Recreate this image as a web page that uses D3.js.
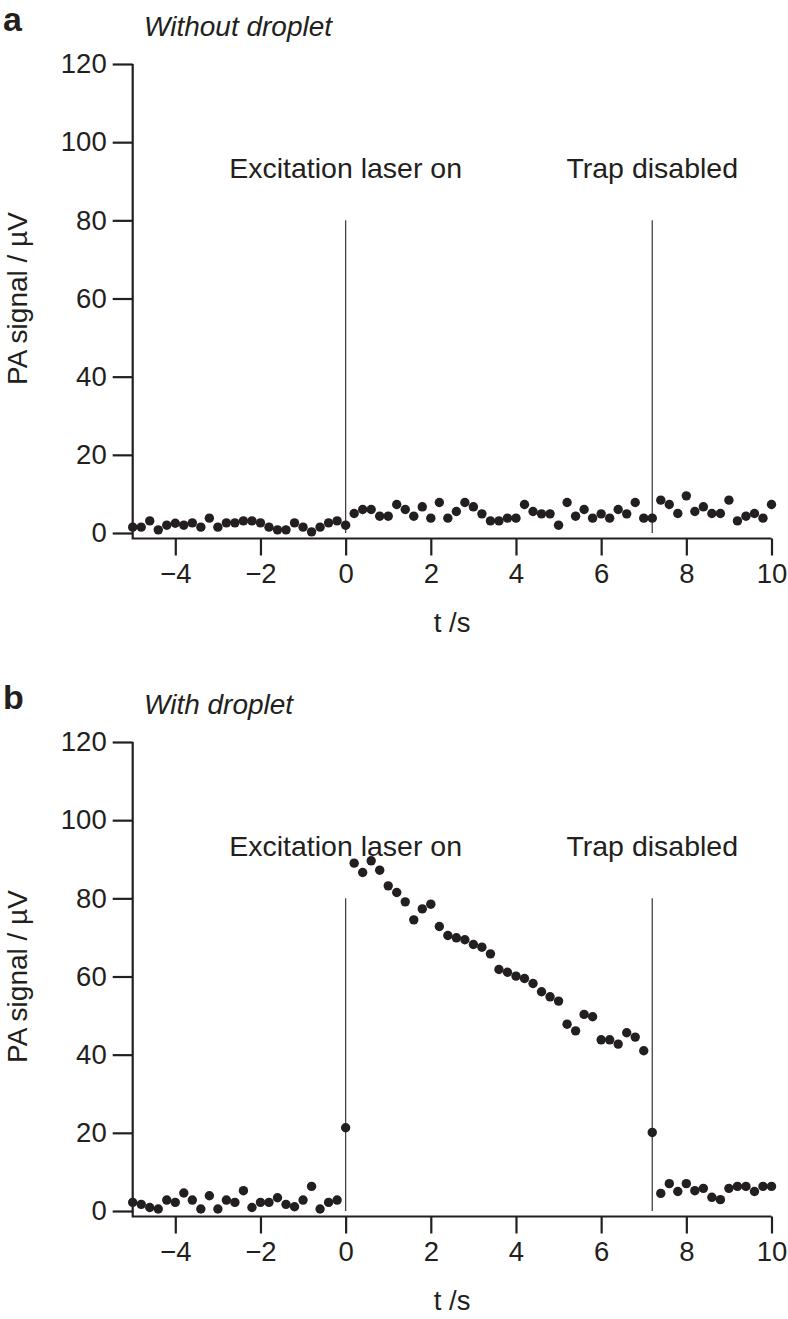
<!DOCTYPE html>
<html>
<head>
<meta charset="utf-8">
<script src="https://cdn.jsdelivr.net/npm/d3@7"></script>
<style>
    body { margin: 0; background: #fff; }
    svg text { font-family: "Liberation Sans", Arial, Helvetica, sans-serif; fill: #231f20; }
</style>
</head>
<body>
<svg id="chart"></svg>
<script>
// Set data
const times = [
    -5.0, -4.8, -4.6, -4.4, -4.2, -4.0, -3.8, -3.6, -3.4, -3.2,
    -3.0, -2.8, -2.6, -2.4, -2.2, -2.0, -1.8, -1.6, -1.4, -1.2,
    -1.0, -0.8, -0.6, -0.4, -0.2, 0.0, 0.2, 0.4, 0.6, 0.8,
    1.0, 1.2, 1.4, 1.6, 1.8, 2.0, 2.2, 2.4, 2.6, 2.8,
    3.0, 3.2, 3.4, 3.6, 3.8, 4.0, 4.2, 4.4, 4.6, 4.8,
    5.0, 5.2, 5.4, 5.6, 5.8, 6.0, 6.2, 6.4, 6.6, 6.8,
    7.0, 7.2, 7.4, 7.6, 7.8, 8.0, 8.2, 8.4, 8.6, 8.8,
    9.0, 9.2, 9.4, 9.6, 9.8, 10.0
];

// a: without droplet
const signalWithout = [
    1.5, 1.5, 3.1, 0.8, 2.0, 2.5, 2.0, 2.6, 1.5, 3.8,
    1.5, 2.6, 2.6, 3.1, 3.1, 2.6, 1.5, 0.8, 0.8, 2.6,
    1.5, 0.3, 1.5, 2.6, 3.1, 2.0, 5.0, 6.0, 6.0, 4.3,
    4.3, 7.3, 6.0, 4.3, 6.7, 3.8, 7.8, 3.8, 5.5, 7.8,
    6.7, 4.9, 3.1, 3.1, 3.8, 3.8, 7.3, 5.5, 4.9, 4.9,
    2.0, 7.8, 4.3, 6.0, 3.8, 4.9, 3.8, 6.0, 4.9, 7.8,
    3.8, 3.8, 8.4, 7.3, 5.0, 9.5, 5.5, 6.7, 5.0, 5.0,
    8.4, 3.1, 4.3, 5.0, 3.8, 7.3
];

// b: with droplet
const signalWith = [
    2.2, 1.7, 0.9, 0.5, 2.8, 2.2, 4.6, 2.8, 0.5, 3.9,
    0.5, 2.8, 2.2, 5.2, 0.9, 2.2, 2.2, 3.4, 1.7, 1.1,
    2.8, 6.3, 0.5, 2.2, 2.8, 21.3, 89.0, 86.6, 89.6, 87.2,
    83.2, 81.5, 79.1, 74.5, 77.3, 78.5, 72.8, 70.5, 69.9, 69.4,
    68.2, 67.5, 65.8, 61.8, 61.1, 60.1, 59.5, 58.2, 56.1, 54.8,
    53.7, 47.8, 46.1, 50.3, 49.7, 43.8, 43.8, 42.7, 45.6, 44.5,
    41.0, 20.1, 4.5, 7.0, 5.0, 7.0, 5.2, 5.8, 3.5, 2.9,
    5.8, 6.3, 6.3, 5.0, 6.3, 6.3
];

const xTicks = [-4, -2, 0, 2, 4, 6, 8, 10];
const yTicks = [0, 20, 40, 60, 80, 100, 120];
const eventTimes = [0, 7.2];
const eventLabels = ["Excitation laser on", "Trap disabled"];
const eventLineTop = 80;

const panelLetters = ["a", "b"];
const panelTitles = ["Without droplet", "With droplet"];
const xLabel = "t /s";
const yLabel = "PA signal / \u00b5V";


// Set width and height
const width = 788;
const height = 1319;
const ink = "#231f20";

const canvas = d3.select("#chart")
    .attr("width", width)
    .attr("height", height);


// functions
const drawAxes = function(g, x, y, axisY){
    // x axis (sits a little below zero)
    g.append("g")
        .attr("transform", "translate(0," + axisY + ")")
        .call(d3.axisBottom(x).tickValues(xTicks).tickSize(17).tickPadding(8)
            .tickFormat(d3.format("d")))
        .call(s => s.selectAll("text").style("font-size", "27.5px").attr("dy", "0.71em"));

    // y axis
    g.append("g")
        .attr("transform", "translate(" + x.range()[0] + ",0)")
        .call(d3.axisLeft(y).tickValues(yTicks).tickSize(20).tickPadding(6))
        .call(s => s.selectAll("text").style("font-size", "27.5px"));

    g.selectAll(".domain").remove();
    g.selectAll(".tick line").attr("stroke", ink).attr("stroke-width", 2.2);

    // L-shaped frame
    g.append("path")
        .attr("d", "M" + x.range()[0] + "," + y(120) + "V" + axisY + "H" + x.range()[1])
        .attr("fill", "none")
        .attr("stroke", ink)
        .attr("stroke-width", 2.2);
}

const drawEvents = function(g, x, y, labelY){
    eventTimes.forEach(function(t, i){
        g.append("line")
            .attr("x1", x(t)).attr("x2", x(t))
            .attr("y1", y(eventLineTop)).attr("y2", y(0))
            .attr("stroke", "#444")
            .attr("stroke-width", 1.3);
        g.append("text")
            .attr("x", x(t)).attr("y", labelY)
            .attr("text-anchor", "middle")
            .style("font-size", "28.5px")
            .text(eventLabels[i]);
    });
}

const drawPanel = function(idx, signal, top){
    const g = canvas.append("g").attr("transform", "translate(0," + top + ")");

    const x = d3.scaleLinear().domain([-5, 10]).range([132.7, 771.5]);
    const y = d3.scaleLinear().domain([0, 120]).range([533, 64]);

    drawAxes(g, x, y, 538.5);
    drawEvents(g, x, y, 178);

    g.append("g")
        .selectAll("circle")
        .data(times)
        .join("circle")
        .attr("cx", d => x(d))
        .attr("cy", (d, i) => y(signal[i]))
        .attr("r", 4.7)
        .attr("fill", ink);

    // panel letter and title
    g.append("text")
        .attr("x", 3).attr("y", 31)
        .style("font-size", "34px")
        .style("font-weight", "bold")
        .text(panelLetters[idx]);
    g.append("text")
        .attr("x", 144).attr("y", 36)
        .style("font-size", "28px")
        .style("font-style", "italic")
        .text(panelTitles[idx]);

    // axis titles
    g.append("text")
        .attr("x", (x.range()[0] + x.range()[1]) / 2).attr("y", 632)
        .attr("text-anchor", "middle")
        .style("font-size", "27.5px")
        .text(xLabel);
    g.append("text")
        .attr("transform", "translate(27," + y(60) + ") rotate(-90)")
        .attr("text-anchor", "middle")
        .style("font-size", "28px")
        .text(yLabel);
}


// main
drawPanel(0, signalWithout, 0);
drawPanel(1, signalWith, 678);
</script>
</body>
</html>
